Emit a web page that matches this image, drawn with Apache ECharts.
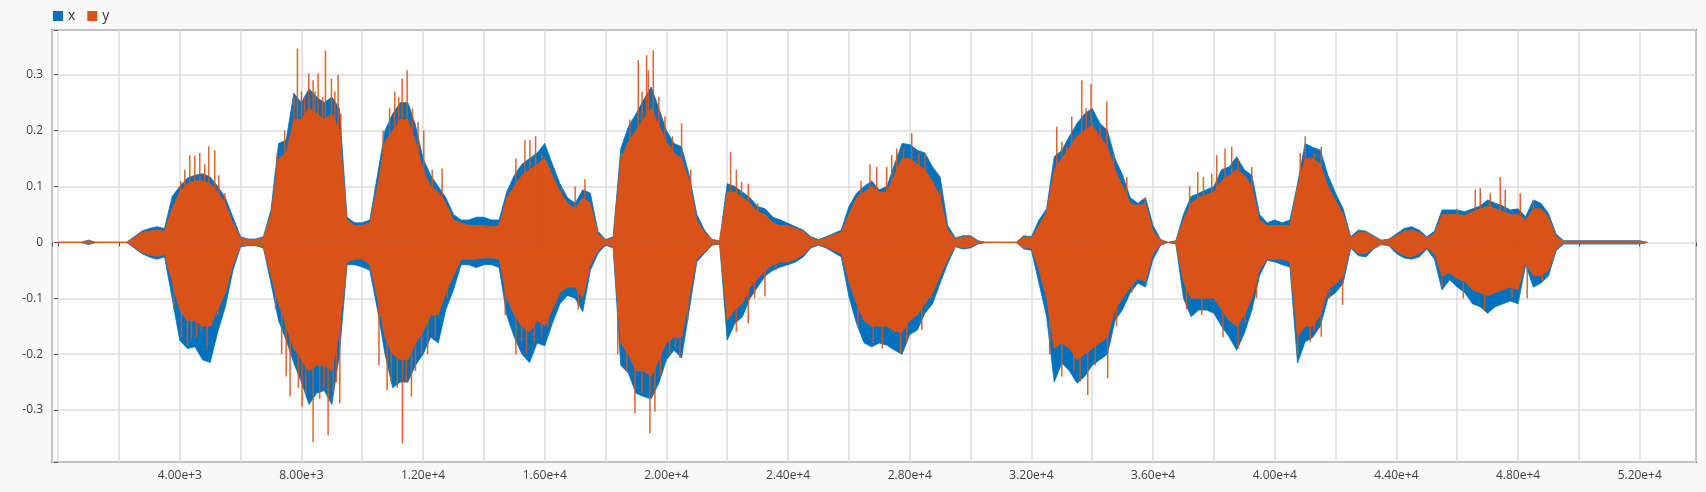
<!DOCTYPE html>
<html>
<head>
<meta charset="utf-8">
<script src="https://cdn.jsdelivr.net/npm/echarts@6/dist/echarts.min.js"></script>
<style>
html,body{margin:0;padding:0;background:#f9f9f9;}
#chart{width:1706px;height:492px;}
</style>
</head>
<body>
<div id="chart"></div>
<script>
// envelope sample spacing (x units)
const STEP = 250;
const seriesNames = ['x', 'y'];

// series "x": upper / lower envelope, one value per step
const xUpper = [
0,0,0,0,.004,0,0,0,0,0,
.01,.02,.025,.028,.025,.082,.1,.115,.12,.123,
.117,.1,.08,.045,.01,.006,.006,.01,.058,.177,
.183,.267,.25,.275,.26,.25,.26,.24,.045,.035,
.035,.04,.12,.2,.23,.25,.25,.21,.15,.12,
.1,.08,.05,.04,.04,.045,.045,.04,.04,.09,
.12,.14,.15,.16,.177,.14,.105,.08,.07,.094,
.088,.02,.005,.01,.168,.207,.23,.255,.278,.24,
.2,.177,.171,.12,.05,.022,.005,.003,.105,.1,
.09,.08,.064,.06,.045,.04,.034,.028,.022,.01,
.005,.01,.016,.022,.064,.088,.1,.11,.094,.1,
.14,.177,.175,.165,.16,.135,.117,.03,.008,.012,
.012,.003,0,0,0,0,0,.012,.01,.04,
.06,.153,.165,.19,.213,.23,.24,.213,.2,.15,
.12,.08,.07,.08,.03,.005,0,.003,.05,.082,
.088,.094,.1,.13,.135,.153,.13,.12,.05,.035,
.04,.035,.04,.105,.177,.17,.165,.12,.088,.06,
.01,.022,.02,.012,.004,.006,.015,.025,.028,.022,
.01,.02,.058,.058,.058,.055,.06,.065,.076,.07,
.065,.058,.06,.046,.076,.07,.052,.015,.003,.003,
.003,.003,.003,.003,.003,.003,.003,.003,.003,0
];
const xLower = [
0,0,0,0,-.004,0,0,0,0,0,
-.01,-.02,-.026,-.03,-.026,-.1,-.175,-.19,-.187,-.21,
-.215,-.16,-.115,-.05,-.008,-.006,-.006,-.01,-.073,-.14,
-.175,-.216,-.25,-.29,-.27,-.265,-.29,-.2,-.04,-.04,
-.044,-.05,-.12,-.2,-.26,-.25,-.25,-.22,-.2,-.17,
-.18,-.12,-.085,-.04,-.04,-.045,-.04,-.04,-.045,-.13,
-.17,-.2,-.215,-.18,-.185,-.145,-.11,-.095,-.1,-.124,
-.05,-.02,-.005,-.01,-.22,-.234,-.27,-.276,-.28,-.252,
-.21,-.193,-.207,-.121,-.035,-.02,-.005,-.003,-.175,-.145,
-.133,-.1,-.08,-.06,-.05,-.044,-.04,-.035,-.026,-.01,
-.005,-.01,-.018,-.026,-.097,-.145,-.18,-.187,-.18,-.184,
-.193,-.2,-.165,-.157,-.127,-.11,-.073,-.038,-.008,-.012,
-.01,-.003,0,0,0,0,0,-.012,-.014,-.073,
-.133,-.25,-.216,-.23,-.252,-.24,-.22,-.21,-.2,-.14,
-.12,-.09,-.073,-.08,-.03,-.005,0,-.003,-.1,-.133,
-.121,-.121,-.127,-.15,-.169,-.193,-.163,-.121,-.06,-.032,
-.035,-.04,-.044,-.216,-.178,-.17,-.15,-.1,-.09,-.073,
-.01,-.024,-.026,-.012,-.004,-.006,-.02,-.028,-.03,-.026,
-.012,-.03,-.085,-.067,-.08,-.09,-.11,-.115,-.127,-.115,
-.11,-.105,-.11,-.04,-.08,-.073,-.06,-.015,-.003,-.003,
-.003,-.003,-.003,-.003,-.003,-.003,-.003,-.003,-.003,0
];

// series "y": dense core envelope, one value per step
const yUpper = [
0,0,0,0,.003,0,0,0,0,0,
.008,.018,.02,.022,.02,.06,.09,.105,.11,.11,
.105,.09,.07,.035,.008,.005,.005,.008,.05,.15,
.16,.22,.22,.24,.23,.22,.23,.2,.04,.03,
.03,.035,.1,.18,.2,.22,.22,.18,.13,.1,
.09,.07,.04,.035,.03,.03,.03,.028,.03,.08,
.1,.12,.13,.14,.15,.12,.09,.07,.06,.08,
.07,.015,.004,.008,.15,.18,.2,.22,.24,.21,
.18,.16,.15,.11,.04,.018,.004,.003,.09,.09,
.08,.07,.055,.05,.035,.03,.03,.025,.02,.008,
.004,.008,.014,.018,.05,.08,.09,.1,.09,.09,
.12,.15,.15,.14,.13,.11,.08,.022,.006,.01,
.01,.002,0,0,0,0,0,.01,.008,.03,
.055,.13,.15,.17,.19,.2,.21,.19,.17,.13,
.1,.07,.065,.07,.02,.004,0,.002,.04,.07,
.08,.085,.09,.11,.12,.13,.12,.1,.04,.03,
.03,.03,.03,.1,.15,.15,.14,.1,.075,.05,
.008,.018,.018,.01,.003,.005,.012,.02,.022,.018,
.008,.015,.05,.05,.05,.048,.055,.06,.065,.06,
.055,.05,.05,.04,.06,.06,.045,.01,.002,.002,
.002,.002,.002,.002,.002,.002,.002,.002,.002,0
];
const yLower = [
0,0,0,0,-.003,0,0,0,0,0,
-.008,-.018,-.022,-.025,-.022,-.07,-.12,-.14,-.14,-.15,
-.15,-.12,-.09,-.04,-.006,-.005,-.005,-.008,-.06,-.11,
-.15,-.19,-.21,-.23,-.22,-.22,-.23,-.16,-.035,-.03,
-.03,-.04,-.1,-.17,-.2,-.21,-.21,-.18,-.16,-.13,
-.13,-.09,-.06,-.03,-.03,-.03,-.028,-.028,-.03,-.1,
-.13,-.15,-.16,-.14,-.15,-.12,-.09,-.08,-.08,-.1,
-.04,-.015,-.004,-.008,-.18,-.2,-.23,-.23,-.24,-.21,
-.18,-.17,-.17,-.1,-.03,-.018,-.004,-.003,-.14,-.12,
-.11,-.08,-.065,-.05,-.04,-.035,-.035,-.03,-.022,-.008,
-.004,-.008,-.015,-.02,-.07,-.11,-.14,-.15,-.15,-.15,
-.16,-.16,-.14,-.13,-.11,-.09,-.06,-.03,-.006,-.01,
-.008,-.002,0,0,0,0,0,-.01,-.01,-.05,
-.1,-.19,-.18,-.19,-.21,-.2,-.19,-.18,-.17,-.12,
-.1,-.08,-.065,-.07,-.02,-.004,0,-.002,-.07,-.1,
-.1,-.1,-.1,-.12,-.14,-.15,-.13,-.1,-.05,-.03,
-.03,-.03,-.035,-.17,-.15,-.15,-.13,-.085,-.075,-.06,
-.008,-.02,-.02,-.01,-.003,-.005,-.015,-.024,-.026,-.02,
-.01,-.02,-.06,-.055,-.065,-.07,-.085,-.09,-.095,-.09,
-.085,-.08,-.085,-.035,-.06,-.06,-.05,-.012,-.002,-.002,
-.002,-.002,-.002,-.002,-.002,-.002,-.002,-.002,-.002,0
];

// series "y": single samples [x, value] that stand out of the dense core
const yPeaks = [
[4033,.11],[4165,.13],[4329,.156],[4494,.155],[4658,.16],[4822,.14],[4954,.172],[5151,.165],[5283,.12],[5480,.088],
[4055,-.17],[4384,-.175],[4713,-.16],[5042,-.15],
[3800,-.12],[4250,-.185],[4550,-.17],[4900,-.19],[5250,-.13],[5600,-.07],
[7760,.26],[7869,.347],[8001,.27],[8242,.302],[8384,.29],[8549,.302],[8790,.343],[8987,.293],[9206,.3],[9294,.23],
[7200,.16],[7450,.2],[8100,.26],[8450,.27],[8700,.26],[9100,.27],
[7628,-.276],[8023,-.294],[8384,-.357],[8878,-.345],[9261,-.288],
[7150,-.12],[7350,-.2],[7500,-.24],[7900,-.26],[8150,-.27],[8600,-.28],[8750,-.26],[9050,-.27],[9150,-.25],
[10686,.2],[11070,.27],[11311,.293],[11475,.308],[11837,.216],[12023,.2],[12626,.132],
[10900,.24],[11200,.26],[11650,.24],[12300,.13],
[10818,-.264],[11322,-.36],[11618,-.276],[11946,-.2],
[10550,-.22],[10950,-.25],[11150,-.26],[11450,-.25],[11750,-.23],[12150,-.2],[12400,-.17],[12800,-.1],
[15348,.183],[15512,.183],[15699,.19],[16554,.097],[17321,.113],
[15050,.15],[15900,.16],[16150,.12],[17000,.1],
[15238,-.18],[15896,-.17],
[14700,-.13],[15050,-.2],[15400,-.2],[15650,-.18],[16100,-.15],[16350,-.11],[17100,-.12],
[18527,.16],[19075,.326],[19348,.335],[19403,.308],[19568,.344],[19952,.225],[20499,.213],
[18800,.22],[19200,.27],[19750,.26],[20200,.19],[20800,.13],
[18965,-.306],[19458,-.342],[19622,-.303],[20444,-.207],
[18400,-.2],[18700,-.23],[19200,-.27],[19800,-.24],[20100,-.2],[20300,-.19],[20700,-.14],
[22110,.162],[22472,.108],[22691,.105],[22691,-.145],[23239,-.097],
[22300,.13],[23000,.07],[22300,-.16],[22900,-.1],[23600,-.05],
[26692,.14],[26915,.135],[27244,.135],[27408,.156],[27572,.168],[28066,.195],[28504,.16],[28997,.094],
[26400,.11],[27800,.17],[28300,.16],
[28395,-.157],
[26300,-.15],[26800,-.18],[27100,-.19],[27700,-.2],[27900,-.18],[28700,-.1],
[32833,.207],[33162,.171],[33326,.225],[33655,.29],[33962,.284],[34258,.207],[34477,.252],[35135,.117],[35519,.07],[35738,.08],
[33000,.18],[33800,.24],[34700,.16],
[33853,-.273],[34510,-.243],
[32600,-.2],[33000,-.24],[33400,-.23],[33600,-.25],[34100,-.22],[34800,-.15],[35300,-.09],
[37469,.126],[37655,.117],[37929,.123],[38093,.156],[38367,.168],[38586,.171],[39244,.135],
[37200,.1],[38800,.15],
[39025,-.145],
[37100,-.12],[37600,-.13],[38300,-.17],[38800,-.19],[39400,-.1],
[40838,.16],[41003,.19],[41529,.171],[41300,.16],
[41167,-.178],[41529,-.169],[42230,-.112],
[40750,-.2],[41300,-.16],[41800,-.1],
[46592,.094],[46757,.097],[47085,.088],[47414,.117],[47579,.094],[48072,.088],
[46000,.06],[48500,.075],
[45500,-.08],[46200,-.1],[46900,-.12],[47800,-.1],[48300,-.1],[48800,-.07]
];

// axis ranges and tick spacing
const xRange = [-200, 53850];
const yRange = [-0.393, 0.38];
const xLabelEvery = 4000;
const yLabelEvery = 0.1;

function at(arr) { return arr.map((v, i) => [i * STEP, v]); }

const BLUE = '#0072BD', ORANGE = '#D95319';
const FONT = '"Open Sans", "Noto Sans", sans-serif';

// an envelope edge filled to the zero line; upper edge + lower edge together make the band
function edge(name, arr, color, z) {
  return {
    name: name, type: 'line', data: at(arr),
    showSymbol: false, symbol: 'none',
    color: color, lineStyle: {width: 0.8, color: color},
    areaStyle: {color: color, opacity: 1, origin: 0}, z: z, silent: true
  };
}

const chart = echarts.init(document.getElementById('chart'), null, {renderer: 'canvas'});
chart.setOption({
  animation: false,
  backgroundColor: '#f9f9f9',
  textStyle: {fontFamily: FONT},
  legend: {
    left: 53, top: 9, padding: 0,
    itemWidth: 10, itemHeight: 10, itemGap: 12,
    icon: 'rect',
    textStyle: {fontSize: 14, color: '#333', fontFamily: FONT},
    data: seriesNames
  },
  grid: {
    left: 52, right: 10, top: 30, bottom: 30,
    show: true, backgroundColor: '#ffffff',
    borderColor: '#7a7a7a', borderWidth: 2
  },
  xAxis: {
    type: 'value', min: xRange[0], max: xRange[1], splitNumber: 27,
    axisLine: {show: false},
    axisTick: {show: true, inside: false, length: 4, lineStyle: {color: '#555'}},
    axisLabel: {
      margin: 8, fontSize: 12, color: '#404040', fontFamily: FONT,
      formatter: function (v) {
        if (v <= 0 || Math.abs(v % xLabelEvery) > 1e-6) return '';
        return v.toExponential(2);
      }
    },
    splitLine: {show: true, lineStyle: {color: '#dcdcdc', width: 1.5}}
  },
  yAxis: {
    type: 'value', min: yRange[0], max: yRange[1], splitNumber: 8,
    axisLine: {show: false},
    axisTick: {show: true, inside: false, length: 4, lineStyle: {color: '#555'}},
    axisLabel: {
      margin: 9, fontSize: 12, color: '#404040', fontFamily: FONT,
      formatter: function (v) {
        const k = v / yLabelEvery;
        if (Math.abs(k - Math.round(k)) > 1e-6) return '';
        return String(Math.round(k) / 10);
      }
    },
    splitLine: {show: true, lineStyle: {color: '#dcdcdc', width: 1.5}}
  },
  series: [
    edge(seriesNames[0], xUpper, BLUE, 2),
    edge(seriesNames[0] + '-lower', xLower, BLUE, 2),
    edge(seriesNames[1], yUpper, ORANGE, 3),
    edge(seriesNames[1] + '-lower', yLower, ORANGE, 3),
    {
      name: seriesNames[1] + '-peaks', type: 'bar', data: yPeaks,
      barWidth: 1.5, barGap: '-100%', color: ORANGE,
      itemStyle: {color: ORANGE, opacity: 0.9}, z: 4, silent: true
    }
  ]
});
</script>
</body>
</html>
